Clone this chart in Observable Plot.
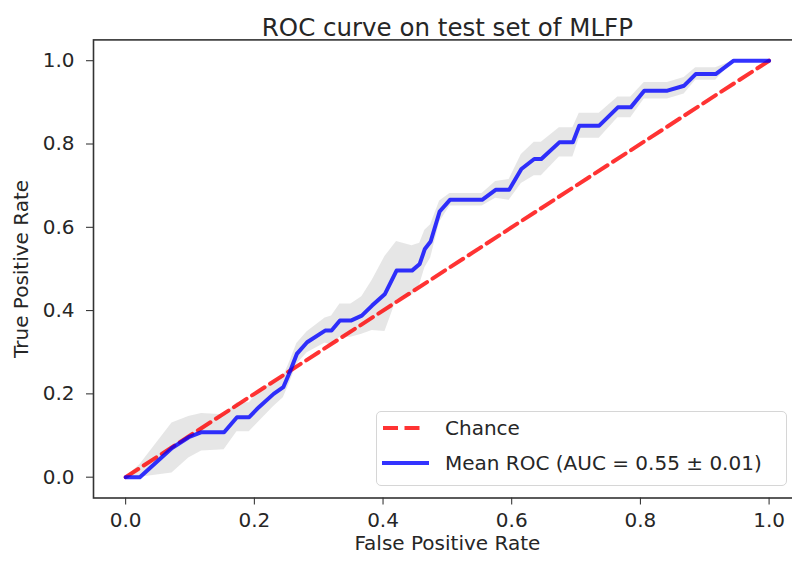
<!DOCTYPE html>
<html>
<head>
<meta charset="utf-8">
<script src="https://cdn.jsdelivr.net/npm/d3@7"></script>
<script src="https://cdn.jsdelivr.net/npm/@observablehq/plot@0.6"></script>
<style>
  html, body { margin: 0; padding: 0; background: white; overflow: hidden; }
  #wrap { position: relative; width: 792px; height: 567px; overflow: hidden; }
  #wrap svg line { stroke-width: 1.6px; }
  #legend {
    position: absolute; left: 376px; top: 411px; width: 411px; height: 75px;
    box-sizing: border-box; border: 1.5px solid #d6d6d6; border-radius: 5px;
    background: rgba(255,255,255,0.85);
    font-family: "DejaVu Sans", sans-serif; font-size: 20px; color: #262626;
  }
  .row { position: absolute; left: 0; height: 30px; display: flex; align-items: center; }
  .row svg { display: block; }
  .row span { position: absolute; left: 68px; white-space: nowrap; }
</style>
</head>
<body>
<div id="wrap"></div>
<script>
// ---- data ----
const title = "ROC curve on test set of MLFP";
const xLabel = "False Positive Rate";
const yLabel = "True Positive Rate";
const tickValues = [0, 0.2, 0.4, 0.6, 0.8, 1.0];
const chanceFpr = [0, 1];
const chanceTpr = [0, 1];
const meanFpr = [0, 0.022, 0.072, 0.098, 0.118, 0.153, 0.173, 0.192, 0.207, 0.230,
  0.245, 0.255, 0.266, 0.282, 0.310, 0.320, 0.333, 0.350, 0.367, 0.383,
  0.403, 0.421, 0.445, 0.457, 0.465, 0.474, 0.488, 0.504, 0.554, 0.575,
  0.596, 0.615, 0.635, 0.646, 0.674, 0.695, 0.705, 0.736, 0.765, 0.785,
  0.806, 0.842, 0.868, 0.886, 0.917, 0.945, 1.0];
const meanTpr = [0, 0, 0.070, 0.096, 0.108, 0.108, 0.144, 0.144, 0.168, 0.200,
  0.216, 0.252, 0.296, 0.324, 0.352, 0.352, 0.376, 0.376, 0.388, 0.412,
  0.440, 0.496, 0.496, 0.512, 0.548, 0.566, 0.638, 0.666, 0.666, 0.690,
  0.690, 0.740, 0.764, 0.764, 0.804, 0.804, 0.844, 0.844, 0.888, 0.888,
  0.928, 0.928, 0.940, 0.968, 0.968, 1.0, 1.0];
const stdTpr = [0, 0.03, 0.06, 0.05, 0.045, 0.042, 0.035, 0.035, 0.035, 0.03,
  0.025, 0.025, 0.025, 0.025, 0.03, 0.035, 0.04, 0.04, 0.045, 0.06,
  0.09, 0.07, 0.06, 0.05, 0.045, 0.04, 0.025, 0.015, 0.015, 0.02,
  0.025, 0.035, 0.04, 0.04, 0.035, 0.035, 0.03, 0.03, 0.025, 0.025,
  0.02, 0.02, 0.02, 0.015, 0.015, 0, 0];
const legendLabels = ["Chance", "Mean ROC (AUC = 0.55 \u00b1 0.01)"];

// ---- tables built from the arrays ----
const meanRows = meanFpr.map((f, i) => ({
  fpr: f, tpr: meanTpr[i],
  lo: Math.max(meanTpr[i] - stdTpr[i], 0),
  hi: Math.min(meanTpr[i] + stdTpr[i], 1)
}));
const chanceRows = chanceFpr.map((f, i) => ({fpr: f, tpr: chanceTpr[i]}));

const textColor = "#262626";
const chart = Plot.plot({
  width: 792,
  height: 567,
  marginLeft: 93,
  marginRight: -8.75,
  marginTop: 39.4,
  marginBottom: 69.5,
  style: {fontFamily: "DejaVu Sans, sans-serif", fontSize: "20px", color: textColor, background: "white", overflow: "hidden"},
  x: {domain: [-0.05, 1.05], ticks: tickValues, tickFormat: d3.format(".1f"), tickSize: 7, tickPadding: 8, label: null},
  y: {domain: [-0.05, 1.05], ticks: tickValues, tickFormat: d3.format(".1f"), tickSize: 7, tickPadding: 12, label: null},
  marks: [
    Plot.areaY(meanRows, {x: "fpr", y1: "lo", y2: "hi", fill: "grey", fillOpacity: 0.2}),
    Plot.line(chanceRows, {x: "fpr", y: "tpr", stroke: "red", strokeOpacity: 0.8, strokeWidth: 4, strokeDasharray: "15,6.5"}),
    Plot.line(meanRows, {x: "fpr", y: "tpr", stroke: "blue", strokeOpacity: 0.8, strokeWidth: 4}),
    Plot.frame({stroke: "#333", strokeWidth: 1.6}),
    Plot.text([title], {frameAnchor: "top", dy: -21, fontSize: 24.5, fill: textColor}),
    Plot.text([xLabel], {frameAnchor: "bottom", dy: 52, fontSize: 20, fill: textColor}),
    Plot.text([yLabel], {frameAnchor: "left", textAnchor: "middle", dx: -72, rotate: -90, fontSize: 20, fill: textColor})
  ]
});
const wrap = document.getElementById("wrap");
wrap.appendChild(chart);

// legend
const legend = document.createElement("div");
legend.id = "legend";
const swatches = [
  `<svg width="60" height="30"><line x1="6" x2="46" y1="15" y2="15" stroke="red" stroke-opacity="0.8" stroke-width="4" stroke-dasharray="15,6.5" style="stroke-width:4px"/></svg>`,
  `<svg width="60" height="30"><line x1="5" x2="52" y1="15" y2="15" stroke="blue" stroke-opacity="0.8" stroke-width="4" style="stroke-width:4px"/></svg>`
];
const tops = [1, 36];
legendLabels.forEach((lab, i) => {
  const row = document.createElement("div");
  row.className = "row";
  row.style.top = tops[i] + "px";
  row.innerHTML = swatches[i] + `<span>${lab}</span>`;
  legend.appendChild(row);
});
wrap.appendChild(legend);
</script>
</body>
</html>
